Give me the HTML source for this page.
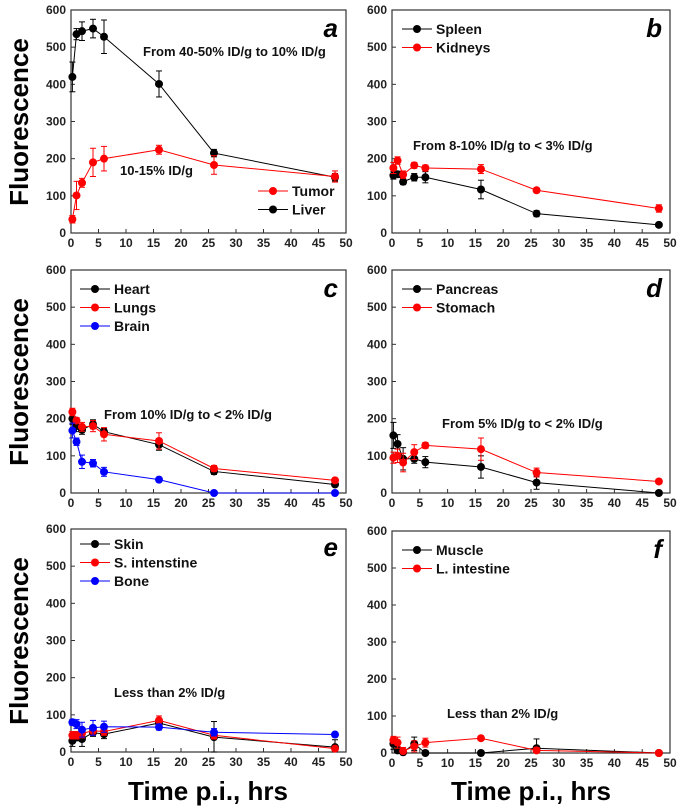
<!DOCTYPE html>
<html><head><meta charset="utf-8"><style>
html,body{margin:0;padding:0;background:#fff;}
svg{display:block;font-family:"Liberation Sans",Arial,sans-serif;}
</style></head><body>
<svg id="fig" width="685" height="809" viewBox="0 0 685 809" xmlns="http://www.w3.org/2000/svg"></svg>
<script>
const times = [0.25,1,2,4,6,16,26,48];
const xTicks = [0,5,10,15,20,25,30,35,40,45,50];
const yTicks = [0,100,200,300,400,500,600];
const liverVals = [420,535,543,550,528,401,215,150];
const liverErr = [40,15,25,25,45,35,10,10];
const tumorVals = [37,101,135,190,200,224,183,152];
const tumorErr = [10,38,12,38,33,12,25,15];
const spleenVals = [155,158,138,150,150,117,52,22];
const spleenErr = [10,8,8,10,15,25,8,5];
const kidneyVals = [175,195,157,182,175,172,115,66];
const kidneyErr = [15,10,10,8,8,12,6,10];
const heartVals = [200,180,170,185,165,130,58,23];
const heartErr = [15,15,12,12,8,15,8,6];
const lungsVals = [218,195,178,180,158,140,66,34];
const lungsErr = [10,8,12,15,18,22,8,6];
const brainVals = [168,138,84,80,57,36,0,0];
const brainErr = [20,10,18,10,12,6,3,2];
const pancreasVals = [155,132,92,92,83,70,28,0];
const pancreasErr = [35,25,30,12,15,30,18,3];
const stomachVals = [95,100,82,110,128,118,55,31];
const stomachErr = [15,18,25,20,8,30,12,6];
const skinVals = [30,40,35,52,48,78,40,13];
const skinErr = [15,10,20,10,12,10,42,20];
const sintVals = [45,45,50,57,55,85,45,9];
const sintErr = [10,10,12,12,10,12,10,5];
const boneVals = [80,75,60,65,68,67,53,47];
const boneErr = [8,12,20,20,15,8,10,6];
const muscleVals = [25,7,2,25,0,0,13,0];
const muscleErr = [15,10,5,18,2,2,25,2];
const lintVals = [35,28,5,18,28,40,7,0];
const lintErr = [10,15,10,15,12,5,8,2];

const NS = "http://www.w3.org/2000/svg";
const svg = document.getElementById('fig');
function mk(tag, attrs, parent, text) {
  const e = document.createElementNS(NS, tag);
  for (const k in attrs) e.setAttribute(k, attrs[k]);
  if (text !== undefined) e.textContent = text;
  (parent || svg).appendChild(e);
  return e;
}

const panels = [
 {id:'a', L:71, R:346, T:10, B:233, series:[
   {name:'liver', c:'#000', v:liverVals, e:liverErr}, {name:'tumor', c:'#f00', v:tumorVals, e:tumorErr}],
   legend:{x:258, y:191, items:[['Tumor','#f00'],['Liver','#000']]},
   notes:[['From 40-50% ID/g to 10% ID/g',143,56],['10-15% ID/g',120,175]]},
 {id:'b', L:392, R:670, T:10, B:233, series:[
   {name:'spleen', c:'#000', v:spleenVals, e:spleenErr}, {name:'kidneys', c:'#f00', v:kidneyVals, e:kidneyErr}],
   legend:{x:402, y:29, items:[['Spleen','#000'],['Kidneys','#f00']]},
   notes:[['From 8-10% ID/g to < 3% ID/g',413,150]]},
 {id:'c', L:71, R:346, T:270, B:493, series:[
   {name:'heart', c:'#000', v:heartVals, e:heartErr}, {name:'lungs', c:'#f00', v:lungsVals, e:lungsErr}, {name:'brain', c:'#00f', v:brainVals, e:brainErr}],
   legend:{x:80, y:289, items:[['Heart','#000'],['Lungs','#f00'],['Brain','#00f']]},
   notes:[['From 10% ID/g to < 2% ID/g',104,419]]},
 {id:'d', L:392, R:670, T:270, B:493, series:[
   {name:'pancreas', c:'#000', v:pancreasVals, e:pancreasErr}, {name:'stomach', c:'#f00', v:stomachVals, e:stomachErr}],
   legend:{x:402, y:289, items:[['Pancreas','#000'],['Stomach','#f00']]},
   notes:[['From 5% ID/g to < 2% ID/g',442,428]]},
 {id:'e', L:71, R:346, T:529, B:752, series:[
   {name:'skin', c:'#000', v:skinVals, e:skinErr}, {name:'s-intestine', c:'#f00', v:sintVals, e:sintErr}, {name:'bone', c:'#00f', v:boneVals, e:boneErr}],
   legend:{x:80, y:544, items:[['Skin','#000'],['S. intenstine','#f00'],['Bone','#00f']]},
   notes:[['Less than 2% ID/g',114,697]]},
 {id:'f', L:392, R:670, T:531, B:753, series:[
   {name:'muscle', c:'#000', v:muscleVals, e:muscleErr}, {name:'l-intestine', c:'#f00', v:lintVals, e:lintErr}],
   legend:{x:402, y:550, items:[['Muscle','#000'],['L. intestine','#f00']]},
   notes:[['Less than 2% ID/g',447,718]]}
];

panels.forEach(p => {
  const g = mk('g', {});
  
  
  const xs = t => p.L + (t / 50) * (p.R - p.L);
  const ys = v => p.B - (v / 600) * (p.B - p.T);
  const frame = mk('rect', {x:p.L, y:p.T, width:p.R-p.L, height:p.B-p.T, fill:'none', stroke:'#333', 'stroke-width':1.2}, g);
  
  
  xTicks.forEach(t => {
    mk('line', {x1:xs(t), x2:xs(t), y1:p.B, y2:p.B-4, stroke:'#333'}, g);
    const lb = mk('text', {x:xs(t), y:p.B+14, 'text-anchor':'middle', 'font-size':12, 'font-weight':'bold', fill:'#222'}, g, String(t));
    
    
  });
  yTicks.forEach(v => {
    mk('line', {x1:p.L, x2:p.L+4, y1:ys(v), y2:ys(v), stroke:'#333'}, g);
    const lb = mk('text', {x:p.L-5, y:ys(v)+4, 'text-anchor':'end', 'font-size':12, 'font-weight':'bold', fill:'#222'}, g, String(v));
    
    
  });
  p.series.forEach(s => {
    const sg = mk('g', {}, g);
    
    
    const pts = times.map((t, i) => xs(t) + ',' + ys(s.v[i])).join(' ');
    mk('polyline', {points:pts, fill:'none', stroke:s.c, 'stroke-width':1}, sg);
    times.forEach((t, i) => {
      const x = xs(t), y1 = ys(Math.min(600, s.v[i] + s.e[i])), y2 = ys(Math.max(0, s.v[i] - s.e[i]));
      mk('line', {x1:x, x2:x, y1:y1, y2:y2, stroke:s.c, 'stroke-width':1}, sg);
      mk('line', {x1:x-3, x2:x+3, y1:y1, y2:y1, stroke:s.c}, sg);
      mk('line', {x1:x-3, x2:x+3, y1:y2, y2:y2, stroke:s.c}, sg);
      const c = mk('circle', {cx:x, cy:ys(s.v[i]), r:4, fill:s.c}, sg);
      
      
    });
  });
  p.legend.items.forEach((it, i) => {
    const y = p.legend.y + i * 18.5;
    const lg = mk('g', {}, g);
    
    
    mk('line', {x1:p.legend.x, x2:p.legend.x+30, y1:y, y2:y, stroke:it[1]}, lg);
    mk('circle', {cx:p.legend.x+15, cy:y, r:4, fill:it[1]}, lg);
    mk('text', {x:p.legend.x+34, y:y+5, 'font-size':14, 'font-weight':'bold', fill:'#111'}, lg, it[0]);
  });
  p.notes.forEach(n => {
    const t = mk('text', {x:n[1], y:n[2], 'font-size':13, 'font-weight':'bold', fill:'#111'}, g, n[0]);
    
    
  });
  const pl = mk('text', {x:p.R-8, y:p.T+27, 'text-anchor':'end', 'font-size':26, 'font-weight':'bold', 'font-style':'italic', fill:'#000'}, g, p.id);
  
  
});

[[122,'y-title-top'],[382,'y-title-middle'],[641,'y-title-bottom']].forEach(a => {
  const t = mk('text', {x:0, y:0, transform:'translate(28,'+a[0]+') rotate(-90)', 'text-anchor':'middle', 'font-size':26, 'font-weight':'bold', fill:'#000'}, svg, 'Fluorescence');
  
  
});
[[208,'x-title-left'],[531,'x-title-right']].forEach(a => {
  const t = mk('text', {x:a[0], y:800, 'text-anchor':'middle', 'font-size':26, 'font-weight':'bold', fill:'#000'}, svg, 'Time p.i., hrs');
  
  
});
</script>
</body></html>
